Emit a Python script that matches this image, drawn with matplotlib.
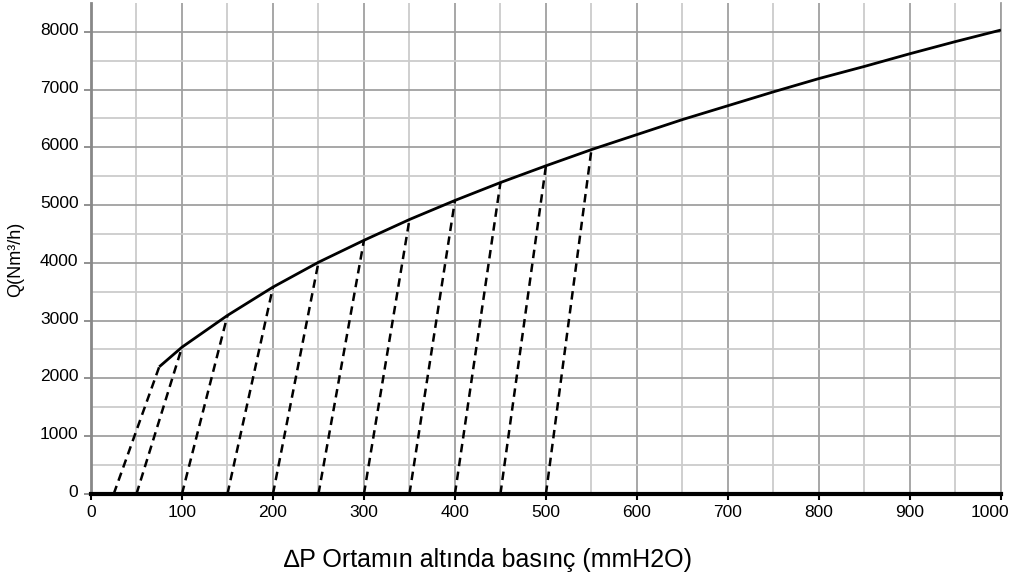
import matplotlib
matplotlib.use("Agg")
import matplotlib.pyplot as plt
import matplotlib.transforms as mtransforms
from matplotlib.ticker import FixedLocator

plt.rcParams['font.family'] = ['Liberation Sans', 'DejaVu Sans']

# --- Data ---
# main flow curve Q vs dP
curve_dp = [75, 100, 150, 200, 250, 300, 350, 400, 450, 500, 550, 600, 650, 700, 750, 800, 850, 900, 950, 1000]
curve_q = [2200, 2540, 3090, 3580, 4010, 4390, 4750, 5080, 5390, 5680, 5960, 6220, 6480, 6720, 6960, 7190, 7400, 7620, 7830, 8030]

# dashed lines: start on the x axis, end on the curve
dash_start = [25, 50, 100, 150, 200, 250, 300, 350, 400, 450, 500]
dash_end = [75, 100, 150, 200, 250, 300, 350, 400, 450, 500, 550]

x_ticks = list(range(0, 1001, 100))
y_ticks = list(range(0, 8001, 1000))

fig = plt.figure(figsize=(10.11, 5.79), dpi=100)
ax = fig.add_axes([0.090, 0.147, 0.900, 0.848])

ax.plot(curve_dp, curve_q, color='black', linewidth=2, solid_capstyle='butt', zorder=4)

q_at = dict(zip(curve_dp, curve_q))
for x0, x1 in zip(dash_start, dash_end):
    ax.plot([x0, x1], [0, q_at[x1]], color='black', linewidth=1.8,
            linestyle=(0, (3.4, 2.2)), zorder=3)

ax.set_xlim(0, 1000)
ax.set_ylim(0, 8500)
ax.set_xticks(x_ticks)
ax.set_yticks(y_ticks)
ax.xaxis.set_minor_locator(FixedLocator(list(range(50, 1000, 100))))
ax.yaxis.set_minor_locator(FixedLocator(list(range(500, 8001, 1000))))

ax.grid(which='major', color='#a0a0a0', linewidth=1.3)
ax.grid(which='minor', color='#cccccc', linewidth=1.3)
ax.set_axisbelow(True)

ax.spines['top'].set_visible(False)
ax.spines['right'].set_color('#a0a0a0')
ax.spines['right'].set_linewidth(1.3)
ax.spines['left'].set_color('#888888')
ax.spines['left'].set_linewidth(2)
ax.spines['bottom'].set_color('black')
ax.spines['bottom'].set_linewidth(3)
ax.spines['bottom'].set_zorder(5)

ax.tick_params(axis='y', which='major', length=5, width=1.3, color='#888888',
               labelsize=12.5, pad=4)
ax.tick_params(axis='x', which='major', length=4, width=1.5, color='black',
               labelsize=12.5, pad=4)
ax.tick_params(which='minor', length=0)

# y tick labels sit a little above their grid lines
up = mtransforms.ScaledTranslation(0, 3 / 100, fig.dpi_scale_trans)
for lab in ax.get_yticklabels():
    lab.set_transform(lab.get_transform() + up)

# last x label pulled inside the picture
left = mtransforms.ScaledTranslation(-11 / 100, 0, fig.dpi_scale_trans)
last = ax.get_xticklabels()[-1]
last.set_transform(last.get_transform() + left)

ax.set_ylabel('Q(Nm³/h)', fontsize=13, labelpad=11)
ax.yaxis.label.set_y(0.477)
ax.set_xlabel('∆P Ortamın altında basınç (mmH2O)', fontsize=18, labelpad=20)
ax.xaxis.label.set_x(0.436)

fig.savefig('out.png', dpi=100)
